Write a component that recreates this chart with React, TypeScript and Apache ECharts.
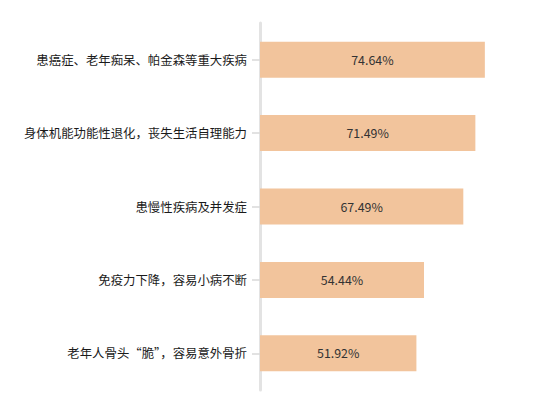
import { useEffect, useRef } from "react";
import * as echarts from "echarts";

const categories = [
  "患癌症、老年痴呆、帕金森等重大疾病",
  "身体机能功能性退化，丧失生活自理能力",
  "患慢性疾病及并发症",
  "免疫力下降，容易小病不断",
  "老年人骨头“脆”，容易意外骨折",
];

const values = [74.64, 71.49, 67.49, 54.44, 51.92];

const FONT = "'Noto Sans CJK SC', 'Noto Sans', sans-serif";

export default function App() {
  const chartDivRef = useRef<HTMLDivElement | null>(null);

  useEffect(() => {
    const el = chartDivRef.current;
    if (!el) {
      return;
    }

    const chart = echarts.init(el, undefined, { renderer: "svg" });

    chart.setOption({
      animation: false,
      backgroundColor: "#ffffff",
      grid: {
        left: 260,
        right: 57,
        top: 23,
        bottom: 26,
        containLabel: false,
      },
      xAxis: {
        type: "value",
        min: 0,
        max: 80,
        show: false,
      },
      yAxis: {
        type: "category",
        inverse: true,
        data: categories,
        axisLine: {
          show: true,
          lineStyle: { color: "#e3e3e3", width: 3 },
        },
        axisTick: {
          show: true,
          length: 8,
          alignWithLabel: true,
          lineStyle: { color: "#d9d9d9", width: 1.5 },
        },
        axisLabel: {
          margin: 13,
          color: "#1a1a1a",
          fontSize: 12.4,
          fontFamily: FONT,
        },
      },
      series: [
        {
          type: "bar",
          data: values,
          barWidth: 36,
          itemStyle: { color: "#f2c49c" },
          label: {
            show: true,
            position: "inside",
            color: "#333333",
            fontSize: 12.4,
            fontFamily: FONT,
            formatter: (p: { value: number }) => `${p.value.toFixed(2)}%`,
          },
        },
      ],
    });

    return () => {
      chart.dispose();
    };
  }, []);

  return (
    <div
      ref={chartDivRef}
      style={{ width: 558, height: 416, position: "absolute", left: 0, top: 0 }}
    />
  );
}
